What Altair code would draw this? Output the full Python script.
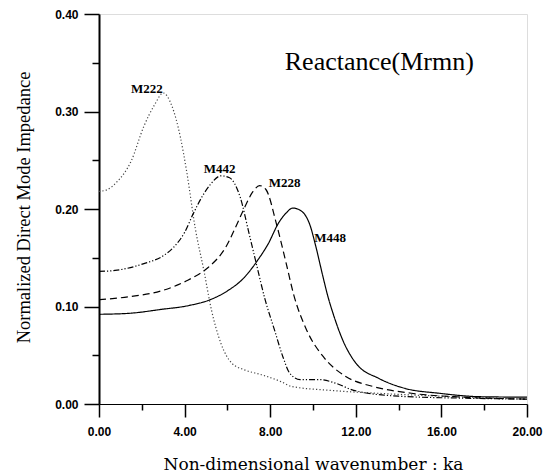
import altair as alt
import pandas as pd

# ---- data ----
m222_ka = [0, 0.4, 0.8, 1.5, 2.1, 2.6, 3.0, 3.4, 3.8, 4.1, 4.5, 4.9, 5.25, 5.7, 6.2, 6.8, 7.6, 8.5, 9.0, 10.8, 13.0, 16.0, 20.0]
m222_val = [0.218, 0.220, 0.227, 0.249, 0.285, 0.307, 0.319, 0.306, 0.274, 0.238, 0.180, 0.137, 0.097, 0.062, 0.042, 0.035, 0.030, 0.023, 0.018, 0.014, 0.011, 0.008, 0.005]

m442_ka = [0, 0.75, 2.1, 3.0, 3.5, 4.0, 4.4, 4.8, 5.2, 5.7, 6.1, 6.6, 7.0, 7.35, 7.75, 8.2, 8.6, 8.9, 9.4, 10.3, 11.1, 11.9, 14.0, 17.0, 20.0]
m442_val = [0.136, 0.137, 0.144, 0.152, 0.161, 0.176, 0.195, 0.212, 0.225, 0.234, 0.232, 0.212, 0.176, 0.144, 0.108, 0.076, 0.048, 0.032, 0.025, 0.025, 0.021, 0.014, 0.008, 0.006, 0.005]

m228_ka = [0, 1.4, 2.9, 4.15, 5.1, 5.9, 6.5, 6.75, 7.2, 7.5, 7.8, 8.3, 8.75, 9.1, 9.7, 10.5, 11.55, 12.8, 14.6, 17.0, 20.0]
m228_val = [0.107, 0.110, 0.116, 0.127, 0.140, 0.160, 0.187, 0.199, 0.218, 0.224, 0.220, 0.184, 0.144, 0.112, 0.076, 0.048, 0.028, 0.018, 0.011, 0.007, 0.005]

m448_ka = [0, 1.4, 2.9, 4.2, 5.2, 6.0, 6.8, 7.4, 7.9, 8.4, 8.75, 9.05, 9.45, 9.85, 10.15, 10.45, 10.7, 10.95, 11.4, 12.0, 13.1, 14.3, 15.9, 17.8, 20.0]
m448_val = [0.092, 0.093, 0.097, 0.101, 0.107, 0.116, 0.130, 0.147, 0.164, 0.186, 0.196, 0.201, 0.198, 0.184, 0.160, 0.132, 0.110, 0.092, 0.065, 0.042, 0.026, 0.016, 0.011, 0.0075, 0.007]

series_names = ["M222", "M442", "M228", "M448"]
label_ka = [2.24, 5.64, 8.67, 10.8]
label_val = [0.323, 0.241, 0.227, 0.170]

x_ticks = [0, 2, 4, 6, 8, 10, 12, 14, 16, 18, 20]
y_ticks = [0.0, 0.05, 0.10, 0.15, 0.20, 0.25, 0.30, 0.35, 0.40]

title_text = "Reactance(Mrmn)"
title_ka = [13.1]
title_val = [0.351]

# ---- build table ----
rows = []
for name, xs, ys in [("M222", m222_ka, m222_val), ("M442", m442_ka, m442_val),
                     ("M228", m228_ka, m228_val), ("M448", m448_ka, m448_val)]:
    for i, (x, y) in enumerate(zip(xs, ys)):
        rows.append({"series": name, "ka": x, "val": y, "order": i})
df = pd.DataFrame(rows)
labels_df = pd.DataFrame({"series": series_names, "ka": label_ka, "val": label_val})
title_df = pd.DataFrame({"t": [title_text], "ka": title_ka, "val": title_val})

xscale = alt.Scale(domain=[0, 20], nice=False, zero=False)
yscale = alt.Scale(domain=[0, 0.4], nice=False, zero=False)

x_axis = alt.Axis(
    values=x_ticks, grid=False, domainColor="black", domainWidth=1.2,
    tickColor="black", tickWidth=1.5,
    tickSize={"condition": {"test": "datum.value % 4 == 0", "value": 13}, "value": 6},
    labelExpr="datum.value % 4 == 0 ? format(datum.value, '.2f') : ''",
    labelFont="Liberation Sans", labelFontWeight="bold", labelFontSize=12, labelColor="black",
    labelPadding=9, labelFlush=False,
    title="Non-dimensional wavenumber : ka", titleFont="DejaVu Serif", titleFontWeight="normal",
    titleFontSize=17, titleColor="black", titleX=214, titleY=60, titleBaseline="middle",
    titleAlign="center",
)
y_axis = alt.Axis(
    values=y_ticks, grid=False, domainColor="black", domainWidth=2,
    tickColor="black", tickWidth=1.5,
    tickSize={"condition": {"test": "round(datum.value*100) % 10 == 0", "value": 15}, "value": 7},
    labelExpr="round(datum.value*100) % 10 == 0 ? format(datum.value, '.2f') : ''",
    labelFont="Liberation Sans", labelFontWeight="bold", labelFontSize=12, labelColor="black",
    labelPadding=6, labelFlush=False,
    title="Normalized Direct Mode Impedance", titleFont="Liberation Serif", titleFontWeight="normal",
    titleFontSize=18.5, titleColor="black", titleX=-76, titleY=193, titleAngle=-90,
    titleBaseline="middle", titleAlign="center",
)

lines = alt.Chart(df).mark_line(interpolate="monotone", strokeWidth=1.2).encode(
    x=alt.X("ka:Q", scale=xscale, axis=x_axis),
    y=alt.Y("val:Q", scale=yscale, axis=y_axis),
    detail="series:N",
    order="order:Q",
    color=alt.Color("series:N", legend=None,
                    scale=alt.Scale(domain=series_names, range=["#444444", "black", "black", "black"])),
    strokeDash=alt.StrokeDash("series:N", legend=None,
                              scale=alt.Scale(domain=series_names,
                                              range=[[1.2, 2.2], [6, 2, 1.2, 2, 1.2, 2], [7, 4], [1, 0]])),
)

labels = alt.Chart(labels_df).mark_text(
    font="Liberation Serif", fontWeight="bold", fontSize=13, color="black"
).encode(x=alt.X("ka:Q", scale=xscale), y=alt.Y("val:Q", scale=yscale), text="series:N")

title = alt.Chart(title_df).mark_text(
    font="Liberation Serif", fontSize=26, color="black"
).encode(x=alt.X("ka:Q", scale=xscale), y=alt.Y("val:Q", scale=yscale), text="t:N")

chart = alt.layer(lines, labels, title).properties(
    width=428, height=390,
    autosize=alt.AutoSizeParams(type="none"),
    padding={"left": 91, "top": 6, "right": 18, "bottom": 69},
).configure_view(stroke="black", strokeWidth=1.2).configure(background="white")

chart.save("out.html", embed_options={"renderer": "svg", "actions": False})
